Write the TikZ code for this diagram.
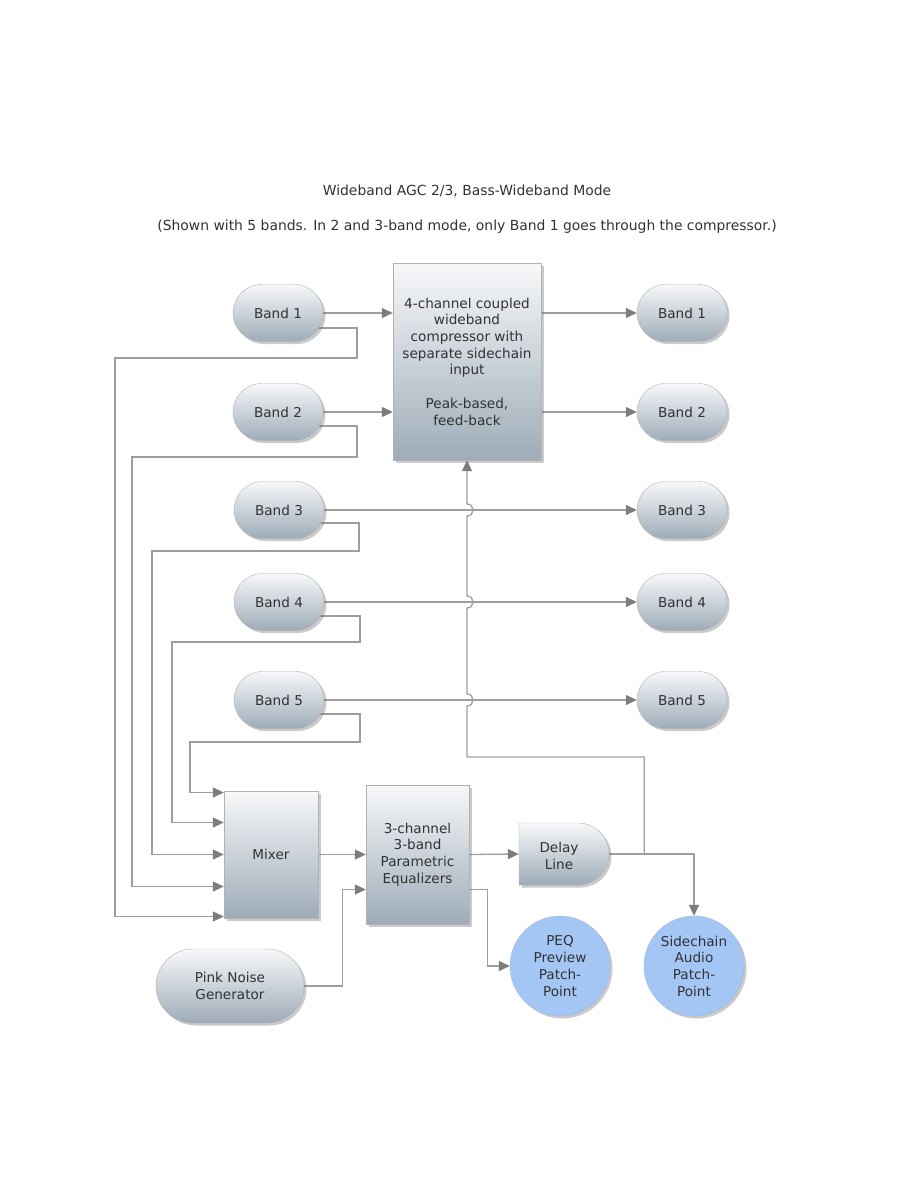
\documentclass[tikz,border=0pt]{standalone}
\usepackage{fontspec}
\setmainfont{DejaVu Sans}
\usetikzlibrary{shapes.misc,shadows,arrows.meta,backgrounds}
\definecolor{ln}{RGB}{158,158,158}
\definecolor{ah}{RGB}{125,125,125}
\definecolor{tx}{RGB}{50,50,50}
\definecolor{gtop}{RGB}{247,248,250}
\definecolor{gbot}{RGB}{158,172,184}
\definecolor{pt}{RGB}{164,198,245}
\tikzset{
 lbl/.style={font=\fontsize{13.6}{16.7}\selectfont, text=tx, align=center},
 ttl/.style={font=\fontsize{13.9}{16.7}\selectfont, text=tx, align=center},
 sh/.style={drop shadow={shadow xshift=2.5pt,shadow yshift=-2.5pt,opacity=0.35,fill=black!60}},
 grad/.style={top color=gtop,bottom color=gbot,draw=black!30,line width=0.4pt},
 band/.style={lbl,grad,sh,rounded rectangle,minimum width=90pt,minimum height=57pt,inner sep=0pt},
 boxn/.style={lbl,grad,sh,rectangle,inner sep=0pt},
 patch/.style={lbl,circle,fill=pt,draw=pt!90!black,line width=0.3pt,sh,minimum size=100pt,inner sep=0pt},
 conn/.style={draw=ln,line width=1.3pt},
 arr/.style={conn,-{Triangle[length=11pt,width=10pt,color=ah]}},
}
\begin{document}
\begin{tikzpicture}[x=1pt,y=-1pt]
\useasboundingbox (0,0) rectangle (918,1188);
% titles
\node[ttl] (title) at (467,191) {Wideband AGC 2/3, Bass-Wideband Mode};
\node[ttl] (sub) at (467,227) {(Shown with 5 bands. In 2 and 3-band mode, only Band 1 goes through the compressor.)};
% left bands
\node[band] (b1l) at (278,313) {Band 1};
\node[band] (b2l) at (278,412) {Band 2};
\node[band] (b3l) at (279,510) {Band 3};
\node[band] (b4l) at (279,602) {Band 4};
\node[band] (b5l) at (279,700) {Band 5};
% right bands
\node[band] (b1r) at (682,313) {Band 1};
\node[band] (b2r) at (682,412) {Band 2};
\node[band] (b3r) at (682,510) {Band 3};
\node[band] (b4r) at (682,602) {Band 4};
\node[band] (b5r) at (682,700) {Band 5};
% compressor
\node[boxn,minimum width=148pt,minimum height=197pt] (comp) at (467,361.5)
 {4-channel coupled\\wideband\\compressor with\\separate sidechain\\input\\[16.7pt]Peak-based,\\feed-back};
% mixer, PEQ
\node[boxn,minimum width=94pt,minimum height=127pt] (mix) at (271,854.5) {Mixer};
\node[boxn,minimum width=103pt,minimum height=139pt] (peq) at (417.5,854.5)
 {3-channel\\3-band\\Parametric\\Equalizers};
% delay line
\path[grad,sh] (519,823) -- (578,823) arc[start angle=90,end angle=-90,radius=31pt] -- (519,885) -- cycle;
\node[lbl,minimum width=90pt,minimum height=62pt,inner sep=0pt] (delay) at (564,854) {};
\node[lbl] (delaytxt) at (559,856) {Delay\\Line};
% pink noise
\node[band,minimum width=148pt,minimum height=74pt] (pn) at (230,986) {Pink Noise\\Generator};
% patch points
\node[patch] (pp) at (560,966) {PEQ\\Preview\\Patch-\\Point};
\node[patch] (sc) at (694,966) {Sidechain\\Audio\\Patch-\\Point};

\begin{pgfonlayer}{background}
% into compressor
\draw[arr] (b1l.east) -- (b1l.east -| comp.west);
\draw[arr] (b2l.east) -- (b2l.east -| comp.west);
% out of compressor
\draw[arr] (comp.east |- b1r.west) -- (b1r.west);
\draw[arr] (comp.east |- b2r.west) -- (b2r.west);
% straight bands
\draw[arr] (b3l.east) -- (b3r.west);
\draw[arr] (b4l.east) -- (b4r.west);
\draw[arr] (b5l.east) -- (b5r.west);
% taps to mixer
\draw[arr] ([yshift=-15pt]b1l.center) -| (357,358) -- (115,358) |- ([yshift=-62pt]mix.west);
\draw[arr] ([yshift=-14pt]b2l.center) -| (357,457) -- (132,457) |- ([yshift=-32pt]mix.west);
\draw[arr] ([yshift=-13pt]b3l.center) -| (359,551) -- (152,551) |- (mix.west);
\draw[arr] ([yshift=-14pt]b4l.center) -| (360,642) -- (172,642) |- ([yshift=32pt]mix.west);
\draw[arr] ([yshift=-14pt]b5l.center) -| (360,742) -- (190,742) |- ([yshift=62pt]mix.west);
% mixer -> PEQ, pink noise -> PEQ
\draw[arr] (mix.east) -- (peq.west);
\draw[arr] (pn.east) -- ++(38,0) |- ([yshift=-35pt]peq.west);
% PEQ -> delay, PEQ -> preview
\draw[arr] (peq.east) -- (delay.west);
\draw[arr] ([yshift=-35pt]peq.east) -- ++(18,0) |- (pp.west);
% delay -> sidechain
\draw[arr] (delay.east) -| (sc.north);
% feedback to compressor sidechain input with hops
\draw[arr] ([xshift=35pt]delay.east) |- (467,757) -- (467,706)
  .. controls (475,706) and (475,694) .. (467,694) -- (467,608)
  .. controls (475,608) and (475,596) .. (467,596) -- (467,516)
  .. controls (475,516) and (475,504) .. (467,504) -- (comp.south);
\end{pgfonlayer}
\end{tikzpicture}
\end{document}
